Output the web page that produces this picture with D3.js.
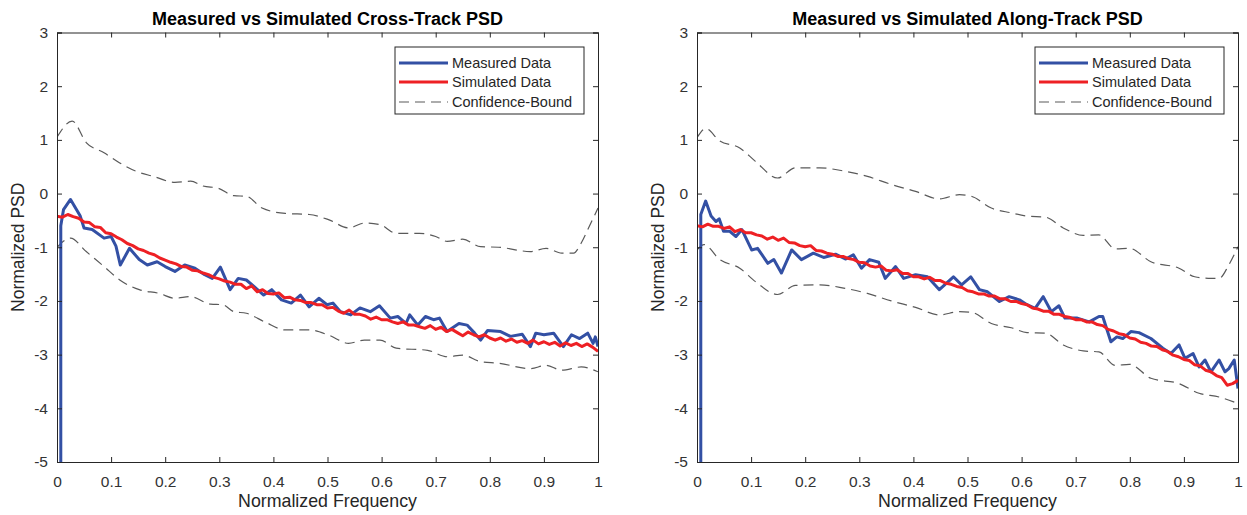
<!DOCTYPE html>
<html><head><meta charset="utf-8">
<script src="https://cdn.jsdelivr.net/npm/d3@7"></script>
<style>
body{margin:0;background:#fff;}
text{font-family:"Liberation Sans",Arial,sans-serif;fill:#262626;}
</style></head>
<body><svg id="c" width="1247" height="515"></svg>
<script>
// ---------- data ----------
const xTicks = [0,0.1,0.2,0.3,0.4,0.5,0.6,0.7,0.8,0.9,1];
const xTickLabels = ["0","0.1","0.2","0.3","0.4","0.5","0.6","0.7","0.8","0.9","1"];
const yTicks = [3,2,1,0,-1,-2,-3,-4,-5];
const yTickLabels = ["3","2","1","0","-1","-2","-3","-4","-5"];
const titles = ["Measured vs Simulated Cross-Track PSD","Measured vs Simulated Along-Track PSD"];
const legendLabels = ["Measured Data","Simulated Data","Confidence-Bound"];

// Cross-track measured
const crossMeasFreq = [0.007,0.007,0.012,0.025,0.043,0.05,0.065,0.087,0.1,0.109,0.117,0.134,0.152,0.167,0.185,0.2,0.218,0.236,0.255,0.273,0.287,0.302,0.32,0.335,0.35,0.364,0.382,0.397,0.415,0.433,0.45,0.466,0.484,0.499,0.51,0.524,0.543,0.56,0.579,0.596,0.616,0.63,0.645,0.652,0.667,0.681,0.696,0.707,0.721,0.743,0.758,0.772,0.783,0.796,0.82,0.838,0.86,0.875,0.885,0.9,0.918,0.936,0.951,0.966,0.981,0.991,0.995,1.0];
const crossMeasVal = [-5,-0.6,-0.3,-0.11,-0.42,-0.64,-0.67,-0.83,-0.8,-0.98,-1.33,-1.02,-1.23,-1.33,-1.27,-1.36,-1.45,-1.33,-1.39,-1.51,-1.58,-1.37,-1.79,-1.58,-1.61,-1.73,-1.89,-1.79,-1.98,-2.04,-1.89,-2.11,-1.95,-2.07,-2.04,-2.2,-2.26,-2.13,-2.2,-2.09,-2.32,-2.29,-2.42,-2.26,-2.45,-2.29,-2.35,-2.32,-2.57,-2.42,-2.45,-2.6,-2.73,-2.55,-2.57,-2.66,-2.62,-2.85,-2.6,-2.63,-2.6,-2.85,-2.63,-2.7,-2.6,-2.79,-2.67,-2.85];

// Simulated frequency grid
const simFreq = [0,0.01,0.02,0.03,0.04,0.05,0.06,0.07,0.08,0.09,0.1,0.11,0.12,0.13,0.14,0.15,0.16,0.17,0.18,0.19,0.2,0.21,0.22,0.23,0.24,0.25,0.26,0.27,0.28,0.29,0.3,0.31,0.32,0.33,0.34,0.35,0.36,0.37,0.38,0.39,0.4,0.41,0.42,0.43,0.44,0.45,0.46,0.47,0.48,0.49,0.5,0.51,0.52,0.53,0.54,0.55,0.56,0.57,0.58,0.59,0.6,0.61,0.62,0.63,0.64,0.65,0.66,0.67,0.68,0.69,0.7,0.71,0.72,0.73,0.74,0.75,0.76,0.77,0.78,0.79,0.8,0.81,0.82,0.83,0.84,0.85,0.86,0.87,0.88,0.89,0.9,0.91,0.92,0.93,0.94,0.95,0.96,0.97,0.98,0.99,1.0];
const crossSimVal = [-0.42,-0.44,-0.39,-0.43,-0.46,-0.53,-0.54,-0.62,-0.63,-0.73,-0.75,-0.81,-0.86,-0.93,-0.97,-1.03,-1.06,-1.11,-1.14,-1.20,-1.24,-1.28,-1.31,-1.36,-1.37,-1.43,-1.44,-1.48,-1.51,-1.56,-1.59,-1.63,-1.65,-1.69,-1.69,-1.77,-1.72,-1.83,-1.79,-1.86,-1.87,-1.85,-1.94,-1.93,-1.98,-1.99,-2.03,-2.03,-2.07,-2.07,-2.13,-2.12,-2.19,-2.23,-2.17,-2.25,-2.25,-2.28,-2.34,-2.30,-2.35,-2.35,-2.39,-2.42,-2.39,-2.45,-2.45,-2.48,-2.51,-2.46,-2.53,-2.49,-2.57,-2.53,-2.59,-2.65,-2.58,-2.63,-2.67,-2.63,-2.69,-2.73,-2.69,-2.75,-2.71,-2.77,-2.74,-2.79,-2.73,-2.80,-2.76,-2.81,-2.77,-2.84,-2.78,-2.83,-2.79,-2.85,-2.80,-2.86,-2.94];

const crossUpFreq = [0,0.028,0.054,0.087,0.116,0.145,0.178,0.218,0.247,0.27,0.298,0.327,0.35,0.379,0.422,0.466,0.503,0.539,0.568,0.597,0.627,0.67,0.7,0.721,0.75,0.783,0.816,0.875,0.904,0.933,0.955,0.969,0.984,1.0];
const crossUpVal = [1.05,1.35,0.95,0.76,0.57,0.42,0.32,0.21,0.23,0.14,0.1,-0.04,-0.05,-0.27,-0.37,-0.39,-0.49,-0.64,-0.55,-0.58,-0.74,-0.74,-0.8,-0.89,-0.85,-0.99,-1.0,-1.08,-1.02,-1.11,-1.11,-0.92,-0.61,-0.27];
const crossLoFreq = [0,0.025,0.054,0.087,0.116,0.152,0.189,0.218,0.247,0.284,0.306,0.327,0.35,0.386,0.422,0.466,0.503,0.539,0.568,0.597,0.627,0.685,0.721,0.75,0.783,0.816,0.875,0.904,0.933,0.969,1.0];
const crossLoVal = [-1.0,-0.83,-1.08,-1.36,-1.61,-1.79,-1.86,-1.95,-1.92,-2.06,-2.07,-2.2,-2.23,-2.4,-2.54,-2.54,-2.64,-2.79,-2.73,-2.73,-2.88,-2.92,-3.04,-3.01,-3.13,-3.16,-3.26,-3.2,-3.29,-3.23,-3.32];

// Along-track measured
const alongMeasFreq = [0.007,0.007,0.016,0.026,0.035,0.041,0.049,0.06,0.072,0.083,0.101,0.112,0.131,0.142,0.156,0.175,0.193,0.215,0.234,0.256,0.275,0.289,0.304,0.319,0.336,0.348,0.367,0.382,0.404,0.426,0.448,0.474,0.489,0.506,0.522,0.537,0.559,0.577,0.596,0.61,0.625,0.64,0.655,0.669,0.68,0.703,0.725,0.743,0.75,0.765,0.776,0.787,0.802,0.817,0.839,0.861,0.876,0.891,0.902,0.917,0.928,0.939,0.95,0.965,0.976,0.983,0.993,1.0];
const alongMeasVal = [-5,-0.39,-0.14,-0.42,-0.52,-0.47,-0.7,-0.7,-0.8,-0.67,-1.05,-1.02,-1.3,-1.23,-1.48,-1.05,-1.23,-1.11,-1.19,-1.13,-1.22,-1.14,-1.39,-1.23,-1.28,-1.58,-1.36,-1.58,-1.51,-1.55,-1.79,-1.55,-1.7,-1.55,-1.79,-1.83,-2.01,-1.92,-1.98,-2.07,-2.14,-1.92,-2.2,-2.09,-2.32,-2.32,-2.39,-2.29,-2.29,-2.76,-2.67,-2.7,-2.57,-2.59,-2.7,-2.88,-2.98,-2.82,-3.07,-2.98,-3.23,-3.1,-3.32,-3.1,-3.32,-3.26,-3.1,-3.63];
const alongSimVal = [-0.60,-0.62,-0.57,-0.61,-0.61,-0.65,-0.62,-0.71,-0.67,-0.73,-0.73,-0.77,-0.79,-0.85,-0.81,-0.87,-0.83,-0.91,-0.92,-0.97,-0.99,-0.97,-1.06,-1.07,-1.11,-1.13,-1.17,-1.17,-1.21,-1.23,-1.28,-1.29,-1.35,-1.37,-1.35,-1.43,-1.44,-1.42,-1.49,-1.49,-1.55,-1.55,-1.59,-1.56,-1.62,-1.62,-1.67,-1.69,-1.73,-1.75,-1.81,-1.83,-1.87,-1.87,-1.91,-1.91,-1.96,-1.96,-2.01,-2.01,-2.05,-2.07,-2.13,-2.15,-2.19,-2.19,-2.25,-2.25,-2.29,-2.31,-2.35,-2.35,-2.39,-2.39,-2.44,-2.46,-2.53,-2.56,-2.61,-2.63,-2.69,-2.71,-2.77,-2.79,-2.84,-2.85,-2.91,-2.94,-3.01,-3.04,-3.09,-3.11,-3.19,-3.21,-3.29,-3.32,-3.39,-3.43,-3.57,-3.54,-3.48];
const alongUpFreq = [0,0.016,0.042,0.079,0.108,0.149,0.182,0.227,0.271,0.315,0.359,0.404,0.448,0.485,0.507,0.544,0.581,0.61,0.644,0.677,0.714,0.743,0.773,0.799,0.839,0.891,0.92,0.95,0.965,0.983,1.0];
const alongUpVal = [1.04,1.21,0.98,0.85,0.6,0.29,0.48,0.48,0.42,0.32,0.17,0.04,-0.1,-0.02,-0.05,-0.27,-0.36,-0.42,-0.44,-0.64,-0.78,-0.77,-1.03,-1.02,-1.27,-1.39,-1.55,-1.58,-1.58,-1.33,-0.99];
const alongLoFreq = [0,0.013,0.042,0.079,0.108,0.149,0.182,0.227,0.271,0.315,0.359,0.404,0.448,0.485,0.507,0.544,0.581,0.61,0.644,0.677,0.714,0.743,0.773,0.799,0.839,0.891,0.928,0.965,1.0];
const alongLoVal = [-1.05,-0.95,-1.23,-1.39,-1.64,-1.88,-1.71,-1.7,-1.76,-1.86,-2.0,-2.12,-2.26,-2.2,-2.21,-2.42,-2.5,-2.59,-2.6,-2.82,-2.93,-2.95,-3.2,-3.18,-3.44,-3.54,-3.72,-3.79,-3.91];

// ---------- drawing ----------
const svg = d3.select("#c");
const COL_AX = "#262626";
const BLUE = "#3350a4", RED = "#ee2024", GRAY = "#5a5a5a";

const panels = [
  {x0:57, x1:598, title:titles[0],
   meas:[crossMeasFreq,crossMeasVal], sim:[simFreq,crossSimVal],
   up:[crossUpFreq,crossUpVal], lo:[crossLoFreq,crossLoVal]},
  {x0:697, x1:1238, title:titles[1],
   meas:[alongMeasFreq,alongMeasVal], sim:[simFreq,alongSimVal],
   up:[alongUpFreq,alongUpVal], lo:[alongLoFreq,alongLoVal]}
];
const yTop = 32.5, yBot = 462;

panels.forEach((p,pi) => {
  const x = d3.scaleLinear().domain([0,1]).range([p.x0,p.x1]);
  const y = d3.scaleLinear().domain([-5,3]).range([yBot,yTop]);
  const g = svg.append("g");
  const clipId = "clip"+pi;
  svg.append("clipPath").attr("id",clipId).append("rect")
    .attr("x",p.x0).attr("y",yTop).attr("width",p.x1-p.x0).attr("height",yBot-yTop);

  const zip = (a) => a[0].map((f,i)=>[f,a[1][i]]);
  const lin = d3.line().x(d=>x(d[0])).y(d=>y(d[1]));
  const smooth = d3.line().x(d=>x(d[0])).y(d=>y(d[1])).curve(d3.curveMonotoneX);

  const plot = g.append("g").attr("clip-path",`url(#${clipId})`);
  [p.up,p.lo].forEach(b => plot.append("path").attr("d",smooth(zip(b)))
     .attr("fill","none").attr("stroke",GRAY).attr("stroke-width",1.2)
     .attr("stroke-dasharray","10,6"));
  plot.append("path").attr("d",lin(zip(p.meas))).attr("fill","none")
     .attr("stroke",BLUE).attr("stroke-width",3).attr("stroke-linejoin","round");
  plot.append("path").attr("d",lin(zip(p.sim))).attr("fill","none")
     .attr("stroke",RED).attr("stroke-width",3).attr("stroke-linejoin","round");

  // axes
  const ax = (gen, tr, ticks, labels, show) => {
    const a = g.append("g").attr("transform",tr)
      .call(gen.tickValues(ticks).tickSize(-5).tickPadding(11)
        .tickFormat((d,i)=> show ? labels[i] : ""));
    a.select(".domain").attr("stroke",COL_AX);
    a.selectAll(".tick line").attr("stroke",COL_AX);
    a.selectAll("text").attr("font-size",15.5).style("fill","#333")
      .attr("font-family","'Liberation Sans',Arial,sans-serif");
    return a;
  };
  const xb = ax(d3.axisBottom(x), `translate(0,${yBot})`, xTicks, xTickLabels, true);
  xb.selectAll(".tick text").attr("y",25).attr("dy",0);
  ax(d3.axisTop(x), `translate(0,${yTop})`, xTicks, xTickLabels, false);
  const yl = ax(d3.axisLeft(y), `translate(${p.x0},0)`, yTicks, yTickLabels, true);
  yl.selectAll(".tick text").attr("x",-9);
  ax(d3.axisRight(y), `translate(${p.x1},0)`, yTicks, yTickLabels, false);

  // title and labels
  const cx = (p.x0+p.x1)/2;
  g.append("text").attr("x",cx).attr("y",25).attr("text-anchor","middle")
    .attr("font-size",18).attr("font-weight","bold").style("fill","#000").text(p.title);
  g.append("text").attr("x",cx).attr("y",507).attr("text-anchor","middle")
    .attr("font-size",17.8).text("Normalized Frequency");
  g.append("text").attr("transform",`translate(${p.x0-33},${(yTop+yBot)/2}) rotate(-90)`)
    .attr("text-anchor","middle").attr("font-size",17.5).text("Normalized PSD");

  // legend
  const lw = 189, lx = p.x1 - 14 - lw, ly = 47, lh = 67;
  const lg = g.append("g");
  lg.append("rect").attr("x",lx).attr("y",ly).attr("width",lw).attr("height",lh)
    .attr("fill","#fff").attr("stroke",COL_AX).attr("stroke-width",1);
  const styles = [{c:BLUE,w:3,d:null},{c:RED,w:3,d:null},{c:GRAY,w:1.2,d:"10,6"}];
  const rows = [16,35,55];
  legendLabels.forEach((t,i)=>{
    const yy = ly + rows[i];
    lg.append("line").attr("x1",lx+4).attr("x2",lx+53).attr("y1",yy).attr("y2",yy)
      .attr("stroke",styles[i].c).attr("stroke-width",styles[i].w)
      .attr("stroke-dasharray",styles[i].d);
    lg.append("text").attr("x",lx+57).attr("y",yy+5).attr("font-size",14.5).text(t);
  });
});
</script></body></html>
